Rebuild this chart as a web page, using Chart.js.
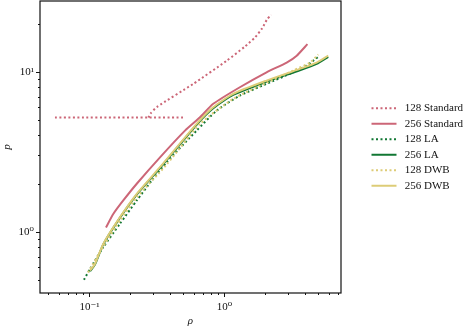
<!DOCTYPE html>
<html>
<head>
<meta charset="utf-8">
<script src="https://cdn.jsdelivr.net/npm/chart.js@4.4.1/dist/chart.umd.min.js"></script>
<style>
  html, body { margin: 0; padding: 0; background: #fff; }
  #wrap { width: 466px; height: 328px; }
</style>
</head>
<body>
<div id="wrap"><canvas id="chart" width="466" height="328"></canvas></div>
<script>
// Values (rho on x, p on y, both log)
const std128FlatRho = [0.0555, 0.495];
const std128FlatP = [5.21, 5.21];
const std128RiseRho = [0.273, 0.283, 0.315, 0.587, 1.038, 1.419, 1.68, 1.90, 2.06, 2.21];
const std128RiseP = [5.21, 5.52, 6.06, 8.46, 11.8, 14.5, 16.5, 18.8, 21.3, 22.9];

const std256Rho = [0.1325, 0.150, 0.178, 0.224, 0.333, 0.510, 0.659, 0.826, 1.30, 2.05, 2.89, 3.43, 4.12];
const std256P = [1.07, 1.30, 1.58, 2.01, 2.94, 4.32, 5.23, 6.35, 8.06, 10.0, 11.5, 12.7, 15.0];

const la128Rho = [0.091, 0.101, 0.1265, 0.168, 0.224, 0.289, 0.373, 0.622, 0.875, 1.30, 2.05, 3.23, 4.06, 4.95];
const la128P = [0.504, 0.59, 0.806, 1.13, 1.58, 2.10, 2.74, 4.32, 5.76, 7.15, 8.46, 10.0, 11.0, 12.5];

const la256Rho = [0.101, 0.110, 0.1265, 0.168, 0.224, 0.333, 0.622, 0.826, 1.16, 2.05, 3.62, 4.82, 5.87];
const la256P = [0.57, 0.63, 0.84, 1.23, 1.72, 2.52, 4.70, 5.95, 7.22, 8.72, 10.3, 11.3, 12.5];

const dwb128Rho = [0.0975, 0.1265, 0.168, 0.224, 0.373, 0.659, 1.16, 2.05, 3.23, 4.30, 4.95];
const dwb128P = [0.56, 0.814, 1.18, 1.65, 2.65, 4.76, 6.82, 8.6, 10.25, 11.5, 12.9];

const dwb256Rho = [0.101, 0.110, 0.1265, 0.168, 0.224, 0.333, 0.622, 0.826, 1.16, 2.05, 3.62, 4.82, 5.87];
const dwb256P = [0.576, 0.635, 0.846, 1.24, 1.74, 2.55, 4.76, 6.04, 7.33, 8.87, 10.5, 11.5, 12.7];

const xTicks = [0.05, 0.06, 0.07, 0.08, 0.09, 0.1, 0.2, 0.3, 0.4, 0.5, 0.6, 0.7, 0.8, 0.9, 1, 2, 3, 4, 5, 6, 7];
const yTicks = [0.5, 0.6, 0.7, 0.8, 0.9, 1, 2, 3, 4, 5, 6, 7, 8, 9, 10, 20];
const tickLabels = { 0.1: '10\u207B\u00B9', 1: '10\u2070', 10: '10\u00B9' };

const RED = '#CC6677', GREEN = '#117733', SAND = '#DDCC77';
const DOT = [2, 2.5];
const SERIF = "'Liberation Serif', 'DejaVu Serif', serif";

const pts = (xs, ys) => xs.map((x, i) => ({ x: x, y: ys[i] }));

const makeSet = (label, data, color, dash) => ({
    label: label,
    data: data,
    showLine: true,
    borderColor: color,
    backgroundColor: color,
    borderWidth: 2,
    borderDash: dash,
    borderCapStyle: 'butt',
    pointRadius: 0,
    pointHoverRadius: 0,
    tension: 0.2,
    fill: false
});

const datasets = [
    makeSet('128 Standard', pts(std128FlatRho, std128FlatP).concat([{ x: null, y: null }], pts(std128RiseRho, std128RiseP)), RED, DOT),
    makeSet('256 Standard', pts(std256Rho, std256P), RED, []),
    makeSet('128 LA', pts(la128Rho, la128P), GREEN, DOT),
    makeSet('256 LA', pts(la256Rho, la256P), GREEN, []),
    makeSet('128 DWB', pts(dwb128Rho, dwb128P), SAND, DOT),
    makeSet('256 DWB', pts(dwb256Rho, dwb256P), SAND, [])
];
// later series drawn on top, like the original
datasets.forEach((ds, i) => { ds.order = datasets.length - i; });

// minor ticks are shorter: dash the tick line so only part of it shows
const isMajor = v => Math.abs(Math.log10(v) - Math.round(Math.log10(v))) < 1e-9;

const framePlugin = {
    id: 'frame',
    afterDatasetsDraw(chart) {
        const { ctx, chartArea: a } = chart;
        ctx.save();
        ctx.strokeStyle = '#111';
        ctx.lineWidth = 1.2;
        ctx.strokeRect(a.left, a.top, a.right - a.left, a.bottom - a.top);
        ctx.restore();
    }
};

new Chart(document.getElementById('chart'), {
    type: 'scatter',
    data: { datasets: datasets },
    options: {
        responsive: false,
        animation: false,
        layout: { padding: { top: 1, right: 0, bottom: 0, left: 0 } },
        plugins: {
            tooltip: { enabled: false },
            legend: {
                position: 'right',
                fullSize: false,
                maxWidth: 99,
                labels: {
                    usePointStyle: true,
                    pointStyleWidth: 25,
                    padding: 4.5,
                    color: '#111',
                    font: { family: SERIF, size: 11 },
                    generateLabels: chart => chart.data.datasets.map((ds, i) => ({
                        text: ' ' + ds.label,
                        strokeStyle: ds.borderColor,
                        fillStyle: ds.borderColor,
                        lineWidth: 2,
                        lineDash: ds.borderDash,
                        pointStyle: 'line',
                        hidden: false,
                        datasetIndex: i,
                        fontColor: '#111'
                    }))
                }
            }
        },
        scales: {
            x: {
                type: 'logarithmic',
                min: 0.043,
                max: 7.3,
                afterFit: s => { s.height = 35; s.paddingLeft = 0; s.paddingRight = 0; },
                afterBuildTicks: s => { s.ticks = xTicks.map(v => ({ value: v })); },
                border: { display: false },
                grid: {
                    drawOnChartArea: false,
                    tickLength: 4,
                    tickColor: '#111',
                    tickWidth: 1,
                    tickBorderDash: c => (c.tick && isMajor(c.tick.value)) ? [] : [2, 100]
                },
                ticks: {
                    autoSkip: false,
                    maxRotation: 0,
                    padding: 4,
                    color: '#111',
                    font: { family: SERIF, size: 11 },
                    callback: v => tickLabels[v] || ''
                },
                title: {
                    display: true,
                    text: '\u03C1',
                    color: '#111',
                    font: { family: SERIF, size: 11, style: 'italic' },
                    padding: { top: 0, bottom: 0 }
                }
            },
            y: {
                type: 'logarithmic',
                min: 0.417,
                max: 27.9,
                afterFit: s => { s.width = 40; s.paddingTop = 0; s.paddingBottom = 0; },
                afterBuildTicks: s => { s.ticks = yTicks.map(v => ({ value: v })); },
                border: { display: false },
                grid: {
                    drawOnChartArea: false,
                    tickLength: 4,
                    tickColor: '#111',
                    tickWidth: 1,
                    tickBorderDash: c => (c.tick && isMajor(c.tick.value)) ? [] : [0, 2, 2, 100]
                },
                ticks: {
                    autoSkip: false,
                    padding: 2,
                    color: '#111',
                    font: { family: SERIF, size: 11 },
                    callback: v => tickLabels[v] || ''
                },
                title: {
                    display: true,
                    text: 'p',
                    color: '#111',
                    font: { family: SERIF, size: 11, style: 'italic' },
                    padding: { top: 1, bottom: 0 }
                }
            },
            // empty spacer between plot frame and legend
            gap: {
                type: 'linear',
                position: 'right',
                display: true,
                afterFit: s => { s.width = 26; s.paddingTop = 0; s.paddingBottom = 0; },
                grid: { display: false },
                border: { display: false },
                ticks: { display: false }
            }
        }
    },
    plugins: [framePlugin]
});
</script>
</body>
</html>
